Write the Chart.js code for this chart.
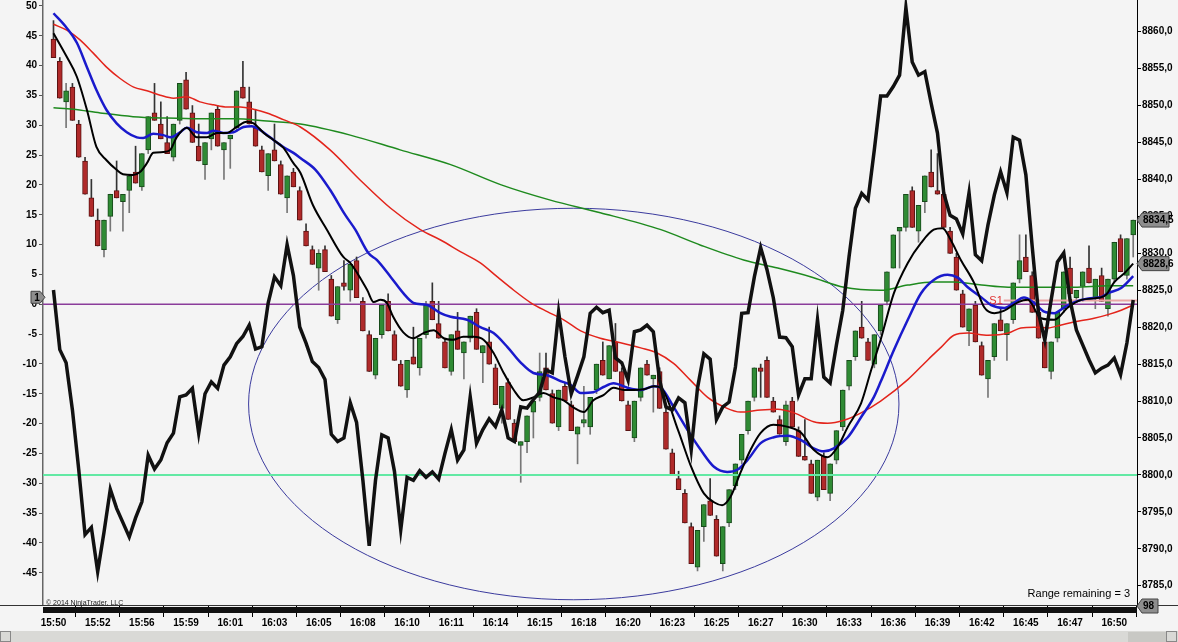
<!DOCTYPE html>
<html>
<head>
<meta charset="utf-8">
<script src="https://cdn.jsdelivr.net/npm/chart.js@4.4.1/dist/chart.umd.min.js"></script>
<style>
  html, body { margin: 0; padding: 0; background: #f4f4f4; }
  #wrap { width: 1178px; height: 642px; }
</style>
</head>
<body>
<div id="wrap"><canvas id="chart" width="1178" height="642"></canvas></div>
<script>
// time axis: one label every 7 range bars
const timeLabels = ['15:50','15:52','15:56','15:59','16:01','16:03','16:05','16:08','16:10','16:11','16:14','16:15','16:18',
  '16:20','16:23','16:25','16:27','16:30','16:33','16:36','16:39','16:42','16:45','16:47','16:50'];
const barsPerLabel = 7;

// range bars (price, right axis)
const opens = [8859.0,8856.0,8850.5,8852.5,8847.5,8842.5,8837.5,8834.5,8830.5,8835.0,8838.5,8837.0,8838.5,8841.0,8839.0,8844.0,8849.0,8847.5,8845.0,8843.0,
  8848.0,8853.5,8849.0,8844.5,8842.0,8845.5,8849.5,8844.0,8845.5,8847.0,8852.5,8850.5,8847.0,8844.0,8840.5,8844.0,8842.0,8837.5,8841.0,8838.5,
  8833.0,8830.5,8828.0,8830.5,8826.5,8821.0,8826.0,8825.0,8829.0,8823.5,8819.0,8813.5,8819.0,8823.5,8819.0,8815.0,8811.5,8816.0,8814.5,8819.0,
  8823.5,8820.5,8818.0,8814.0,8819.5,8816.5,8818.5,8822.0,8816.5,8818.0,8814.5,8809.0,8812.5,8807.0,8804.0,8804.5,8808.5,8810.5,8814.5,8811.0,
  8806.5,8812.0,8809.5,8805.5,8807.0,8806.5,8811.5,8815.5,8813.0,8818.0,8814.0,8809.5,8805.0,8810.5,8815.0,8813.0,8814.0,8808.5,8803.0,8799.5,
  8797.5,8793.0,8787.5,8793.0,8796.5,8794.0,8788.0,8793.5,8798.5,8802.0,8806.0,8810.5,8814.5,8815.5,8810.0,8807.5,8804.5,8810.0,8806.0,8802.5,
  8801.5,8797.0,8802.5,8797.5,8802.0,8806.5,8812.0,8816.0,8820.0,8818.0,8815.0,8819.5,8823.5,8828.0,8833.0,8833.5,8838.5,8833.0,8837.0,8841.0,
  8838.5,8838.0,8833.0,8829.5,8824.5,8819.5,8823.0,8817.5,8813.0,8816.0,8821.0,8819.0,8821.0,8826.5,8829.5,8827.0,8822.0,8818.0,8814.0,8818.5,
  8822.5,8828.0,8824.0,8825.5,8828.0,8824.0,8827.0,8822.5,8826.5,8832.0,8827.0,8832.5];
const highs = [8861.5,8856.5,8853.0,8853.0,8848.0,8843.0,8840.0,8836.0,8834.5,8838.0,8842.5,8838.0,8840.5,8844.5,8843.5,8848.5,8853.0,8850.5,8848.5,8847.5,
  8853.0,8854.5,8850.0,8847.5,8845.0,8849.0,8850.0,8845.0,8846.0,8852.0,8856.0,8852.5,8849.5,8844.5,8843.5,8847.5,8842.5,8840.5,8841.5,8839.0,
  8834.0,8831.0,8830.5,8831.0,8827.0,8825.5,8829.0,8828.5,8829.5,8824.0,8819.5,8818.5,8823.0,8824.5,8819.5,8815.5,8815.5,8820.0,8818.5,8823.5,
  8826.0,8823.5,8818.5,8819.0,8822.0,8818.0,8821.5,8822.5,8817.5,8820.0,8815.0,8812.0,8813.0,8807.5,8804.5,8808.0,8810.0,8816.5,8816.5,8811.5,
  8811.5,8812.5,8810.0,8806.5,8812.0,8810.5,8815.0,8818.0,8817.5,8820.5,8814.5,8810.0,8810.0,8814.5,8815.5,8813.5,8814.5,8809.0,8803.5,8800.5,
  8798.0,8793.5,8792.5,8796.0,8799.5,8794.5,8793.0,8798.0,8801.5,8805.5,8810.0,8814.5,8815.0,8816.0,8810.5,8808.0,8810.0,8810.5,8806.5,8807.5,
  8802.0,8802.0,8803.0,8801.5,8806.0,8811.5,8815.5,8819.5,8823.5,8818.5,8819.0,8823.0,8827.5,8832.5,8833.5,8838.0,8839.0,8836.5,8840.5,8844.0,
  8843.5,8838.5,8833.5,8830.0,8825.0,8822.5,8823.5,8818.0,8815.5,8820.5,8822.5,8820.5,8826.0,8832.5,8832.5,8827.5,8822.5,8818.5,8818.0,8822.0,
  8827.5,8829.5,8825.0,8827.5,8831.0,8826.5,8828.0,8826.5,8831.5,8832.5,8832.0,8834.5];
const lows = [8856.5,8851.0,8847.0,8848.0,8843.0,8838.0,8835.0,8831.0,8829.5,8833.0,8837.5,8833.0,8835.5,8839.5,8838.5,8843.5,8848.0,8845.5,8843.5,8842.5,
  8847.5,8849.5,8845.0,8842.5,8840.0,8844.0,8844.5,8840.0,8841.5,8846.5,8851.0,8847.5,8844.5,8841.0,8838.5,8842.5,8838.0,8835.5,8839.0,8834.5,
  8831.0,8828.5,8825.0,8827.5,8821.5,8820.5,8825.0,8823.5,8824.0,8819.5,8814.0,8813.0,8818.5,8819.5,8815.5,8812.0,8810.5,8815.0,8813.5,8818.5,
  8821.0,8818.5,8814.5,8813.5,8817.0,8813.0,8818.0,8817.0,8812.5,8815.0,8809.5,8807.0,8807.5,8804.5,8799.0,8803.0,8805.0,8810.0,8811.5,8807.0,
  8806.0,8810.0,8806.0,8801.5,8806.5,8805.5,8811.0,8813.5,8813.0,8814.0,8810.0,8806.0,8804.5,8810.0,8813.5,8808.5,8809.0,8803.5,8800.0,8798.0,
  8793.5,8788.0,8787.0,8791.0,8794.5,8789.0,8787.0,8793.0,8798.0,8801.5,8805.5,8810.0,8810.5,8810.5,8808.5,8805.5,8804.0,8806.5,8802.5,8802.0,
  8797.5,8796.5,8798.0,8796.5,8801.5,8806.0,8811.5,8815.5,8818.5,8815.5,8814.5,8819.0,8823.0,8828.0,8828.0,8833.0,8833.5,8831.5,8835.5,8839.0,
  8838.0,8833.5,8830.0,8825.0,8820.0,8817.5,8818.0,8813.5,8810.5,8815.5,8819.5,8815.5,8820.5,8826.0,8827.5,8822.0,8818.5,8814.5,8813.0,8818.0,
  8822.0,8824.5,8823.5,8823.5,8826.0,8822.5,8823.5,8821.5,8826.0,8827.5,8826.5,8829.5];
const closes = [8856.5,8851.0,8852.0,8848.0,8843.0,8838.0,8835.0,8831.0,8834.5,8838.0,8837.5,8838.0,8840.5,8839.5,8843.5,8848.5,8848.0,8845.5,8843.5,8847.5,
  8853.0,8849.5,8845.0,8842.5,8845.0,8849.0,8844.5,8845.0,8846.0,8852.0,8851.0,8847.5,8844.5,8841.0,8843.5,8842.5,8838.0,8840.5,8839.0,8834.5,
  8831.0,8828.5,8830.0,8827.5,8821.5,8825.5,8825.5,8828.5,8824.0,8819.5,8814.0,8818.5,8823.0,8819.5,8815.5,8812.0,8815.5,8815.0,8818.5,8823.0,
  8821.0,8818.5,8814.5,8819.0,8817.0,8818.0,8821.5,8817.0,8817.5,8815.0,8809.5,8812.0,8807.5,8804.5,8804.5,8808.0,8810.0,8814.0,8811.5,8807.0,
  8811.5,8810.0,8806.0,8806.5,8807.5,8810.5,8815.0,8813.5,8817.5,8814.0,8810.0,8806.0,8810.0,8814.5,8813.5,8813.5,8809.0,8803.5,8800.0,8798.0,
  8793.5,8788.0,8792.5,8796.0,8794.5,8789.0,8793.0,8798.0,8801.5,8805.5,8810.0,8814.5,8814.0,8810.5,8808.5,8805.5,8809.5,8806.5,8802.5,8802.0,
  8797.5,8802.0,8798.0,8801.5,8806.0,8811.5,8815.5,8819.5,8818.5,8815.5,8819.0,8823.0,8827.5,8832.5,8833.5,8838.0,8833.5,8836.5,8840.5,8839.0,
  8838.0,8833.5,8830.0,8825.0,8820.0,8822.5,8818.0,8813.5,8815.5,8820.5,8819.5,8820.5,8826.0,8829.0,8827.5,8822.0,8818.5,8814.5,8818.0,8822.0,
  8827.5,8824.5,8825.0,8827.5,8826.0,8826.5,8823.5,8826.5,8831.5,8827.5,8832.0,8834.5];

// oscillator (left axis), one value per bar
const oscillator = [2.4,-7.6,-9.8,-17.7,-27.7,-38.6,-37.4,-44.8,-38.2,-31.0,-34.2,-36.6,-39.0,-35.8,-33.1,-25.3,-27.6,-26.1,-23.2,-21.6,
  -15.5,-15.2,-14.1,-21.6,-15.0,-13.0,-14.1,-10.2,-8.8,-6.6,-5.4,-3.5,-7.5,-7.1,0.2,4.6,3.1,10.0,4.8,-3.8,
  -6.5,-9.6,-10.6,-12.6,-21.8,-23.0,-22.4,-16.5,-19.8,-29.5,-40.5,-29.5,-21.9,-22.4,-28.0,-37.8,-29.0,-29.5,-27.9,-29.0,
  -28.1,-29.3,-25.0,-21.0,-26.1,-24.4,-15.5,-23.3,-21.0,-19.2,-20.5,-17.7,-22.4,-23.0,-17.2,-17.4,-16.0,-14.7,-11.0,-11.5,
  -1.3,-8.8,-15.0,-12.0,-8.8,-1.5,-0.5,-1.4,-1.0,-9.0,-9.8,-12.7,-4.6,-4.3,-3.5,-4.6,-12.7,-17.2,-17.7,-15.7,
  -16.5,-24.4,-14.0,-8.3,-9.2,-19.3,-17.2,-16.4,-10.5,-1.5,-1.4,4.6,9.5,5.8,1.1,-5.5,-5.6,-7.1,-15.2,-12.5,
  -12.5,-2.6,-12.2,-13.2,-6.8,-1.0,8.0,16.1,18.6,17.5,25.9,34.9,34.9,36.5,38.4,49.7,40.6,38.4,39.0,33.7,
  28.7,18.6,14.9,14.3,11.8,18.7,8.3,7.3,13.3,18.3,22.2,18.7,28.0,27.5,21.7,9.7,-1.5,-6.0,0.7,7.1,
  8.6,0.7,-4.3,-6.8,-9.3,-11.5,-10.7,-10.2,-9.0,-11.8,-6.5,0.7];

// moving averages: [bar, price]
const maFast = [[0,8859.8],[2.1,8856.6],[3.7,8853.9],[5.3,8849.4],[6.8,8844.4],[8.4,8842.6],[10,8841.3],[11,8840.7],[12.6,8840.6],[13.7,8841.0],
  [14.8,8842.2],[15.8,8843.6],[17.4,8843.7],[18.5,8844.0],[19.5,8845.7],[21.1,8847.0],[22.7,8845.7],[24.3,8845.7],[25.9,8846.3],[27.5,8846.3],
  [29,8847.1],[30.6,8847.8],[31.7,8847.6],[33.3,8846.3],[34.9,8845.3],[36.4,8844.3],[38,8842.2],[39.1,8840.9],[41.1,8836.5],[43.3,8833.2],
  [45.9,8829.5],[47,8828.7],[49.7,8825.0],[50.7,8823.4],[51.8,8823.7],[52.8,8823.3],[53.8,8821.4],[55.4,8819.3],[57,8818.5],[58.6,8819.2],
  [60.2,8819.6],[61.8,8818.5],[63.3,8818.3],[64.9,8818.7],[66.5,8818.7],[68.1,8818.3],[69.7,8816.5],[71.3,8813.8],[72.9,8811.5],[74.4,8810.1],
  [76,8810.5],[77.6,8811.1],[79.2,8810.5],[80.8,8810.1],[82.4,8809.1],[84,8808.5],[85.5,8810.1],[87.1,8810.8],[88.7,8811.8],[90.3,8811.5],
  [91.9,8811.5],[93.5,8811.6],[95.1,8812.0],[96.2,8811.8],[98.9,8806.1],[100.9,8801.3],[103,8797.5],[104.6,8796.3],[105.9,8795.9],[107.2,8797.0],
  [108.8,8800.3],[110.4,8803.4],[112,8805.7],[114,8806.8],[116.3,8806.5],[118.4,8805.7],[120.4,8803.4],[122.6,8802.4],[124.2,8803.8],[125.8,8806.5],
  [127.9,8809.7],[129.5,8814.2],[131,8818.3],[133.1,8824.6],[135.3,8828.7],[137.4,8831.4],[139.4,8833.2],[140.8,8833.4],[142.1,8831.8],[143.7,8829.1],
  [145.8,8826.0],[147.4,8822.7],[149,8821.9],[150.5,8822.2],[152.8,8823.4],[154.3,8823.7],[156.4,8821.2],[158.5,8821.0],[160.7,8822.7],[162.8,8823.7],
  [164.8,8823.9],[166.7,8824.4],[168,8826.1],[169.6,8827.3],[171,8828.6]];
const maBlue = [[0,8862.5],[2.1,8860.5],[3.7,8858.5],[5.3,8855.2],[6.8,8852.1],[8.4,8849.4],[10,8847.6],[11.6,8846.4],[13.2,8845.7],[14.2,8845.6],
  [15.8,8846.2],[17.4,8846.0],[18.5,8845.7],[20.1,8846.4],[21.1,8847.0],[22.7,8846.4],[24.3,8846.3],[25.3,8846.6],[26.9,8846.3],[28.5,8846.4],
  [30.1,8847.1],[31.4,8847.2],[32.7,8846.7],[34.3,8845.7],[36.4,8844.4],[38,8843.6],[39.1,8842.9],[41.5,8841.3],[43.8,8838.6],[46.2,8835.2],
  [47.8,8833.2],[49.9,8830.0],[51.2,8829.1],[53.4,8826.8],[55.4,8824.6],[57,8823.3],[59.2,8823.0],[61.3,8821.9],[62.9,8821.4],[65.5,8821.0],
  [67.6,8820.0],[69.7,8819.2],[71.9,8817.3],[74,8815.2],[76,8813.8],[78.2,8813.5],[80.3,8812.7],[81.9,8812.2],[83.5,8811.1],[85.5,8811.2],
  [87.1,8811.9],[88.7,8812.4],[90.9,8811.8],[93,8811.5],[95.1,8812.0],[96.2,8811.8],[98.2,8809.2],[100.4,8806.1],[102.5,8803.4],[104.6,8801.1],
  [106.7,8800.4],[108.3,8800.7],[109.9,8802.0],[112,8804.3],[114.1,8805.1],[116.3,8805.3],[118.4,8804.7],[120.4,8803.6],[122,8803.2],[123.6,8803.6],
  [125.8,8805.1],[127.9,8807.8],[129.9,8810.5],[131,8812.6],[133.1,8816.9],[135.3,8821.0],[137.4,8824.6],[139.4,8826.4],[141.6,8827.1],[143.2,8826.7],
  [144.8,8825.4],[147,8824.0],[148.5,8823.0],[150.6,8822.6],[152.1,8823.3],[153.7,8824.0],[155.3,8823.3],[156.9,8822.1],[158.5,8821.9],[160.1,8822.7],
  [161.7,8823.4],[163.9,8823.9],[166,8824.1],[167,8824.6],[169.1,8825.3],[171,8826.9]];
const maRed = [[0,8861.0],[2.1,8860.2],[4.2,8858.9],[6.3,8857.1],[8.4,8855.2],[10.5,8853.7],[12.7,8852.5],[14.8,8852.0],[16.9,8851.4],[19,8851.0],
  [21.1,8851.2],[23.2,8850.5],[25.3,8850.1],[27.5,8849.8],[29.6,8849.8],[31.7,8849.5],[33.8,8849.0],[36.4,8848.1],[39.1,8847.1],[43.8,8844.0],
  [48.6,8839.9],[53.4,8836.1],[58.1,8833.2],[61.3,8831.8],[64.5,8830.2],[67.6,8828.7],[70.3,8826.8],[72.9,8825.0],[75.6,8823.3],[78.2,8822.1],
  [80.8,8821.0],[83.5,8819.5],[86.6,8818.5],[89.8,8817.9],[93,8817.2],[95.6,8816.5],[98.2,8815.1],[100.9,8812.8],[103.6,8810.5],[106.2,8809.2],
  [108.8,8808.5],[112,8808.8],[114.7,8808.9],[117.3,8808.4],[120.4,8807.2],[122.6,8807.0],[125.2,8807.4],[127.9,8808.4],[131,8810.0],[135.3,8812.9],
  [138.5,8815.6],[140.6,8817.3],[142.6,8818.9],[144.8,8819.2],[148,8818.9],[151.2,8819.2],[153.2,8819.9],[155.3,8820.0],[157.5,8819.9],[159.6,8820.3],
  [161.6,8820.7],[164.8,8821.2],[167,8821.7],[169.1,8822.3],[171,8823.0]];
const maGreen = [[0,8849.7],[3.1,8849.5],[7.4,8849.0],[12.6,8848.5],[17.9,8848.3],[23.2,8848.2],[28.5,8848.2],[33.8,8847.9],[39.1,8847.5],[47,8846.0],
  [54.9,8844.0],[62.9,8842.0],[70.8,8839.3],[78.7,8837.2],[86.6,8835.5],[96.2,8833.2],[102.5,8831.1],[109.3,8829.1],[114.7,8828.0],[120,8826.8],
  [125.2,8825.4],[131,8825.0],[135.3,8825.7],[139.4,8826.1],[142.6,8826.1],[147,8825.7],[151.2,8825.4],[156.4,8825.4],[161.7,8825.4],[167,8825.6],[171,8825.6]];

// horizontal levels
const zeroLevel = 0;          // left axis
const supportLevel = 8800;    // right axis
const s1Level = 8823.6;
const s1StartBar = 150.5;

const idx = opens.map((_, i) => i);
const isUp = i => closes[i] >= opens[i];
const pts = arr => arr.map(p => ({ x: p[0], y: p[1] }));
const fmt = v => v.toFixed(1).replace('.', ',');

Chart.defaults.font.family = 'Liberation Sans';

const decor = {
  id: 'decor',
  beforeDraw(chart) {
    const c = chart.ctx;
    c.save();
    c.fillStyle = '#f4f4f4';
    c.fillRect(0, 0, chart.width, chart.height);
    c.restore();
  },
  beforeDatasetsDraw(chart) {
    // drawn ellipse
    const c = chart.ctx, x = chart.scales.x, y = chart.scales.yR;
    const cx = x.getPixelForValue(82.4), cy = y.getPixelForValue(8809.6);
    const rx = x.getPixelForValue(82.4 + 51.5) - cx;
    const ry = cy - y.getPixelForValue(8809.6 + 26.5);
    c.save();
    c.strokeStyle = '#3b3b9e';
    c.lineWidth = 1;
    c.beginPath();
    c.ellipse(cx, cy, rx, ry, 0, 0, Math.PI * 2);
    c.stroke();
    c.restore();
  },
  afterDraw(chart) {
    const c = chart.ctx, a = chart.chartArea, yR = chart.scales.yR;
    c.save();
    // bottom frame + overview band + scroll strip
    c.fillStyle = '#333';
    c.fillRect(0, a.bottom, chart.width, 1);
    c.fillStyle = '#111';
    c.fillRect(a.left, a.bottom + 2, a.right - a.left, 6);
    c.fillStyle = '#d9d9d6';
    c.fillRect(0, 631, chart.width, 11);
    c.fillStyle = '#c8c8c4';
    c.fillRect(1128, 632, 38, 10);
    c.strokeStyle = '#888';
    c.strokeRect(0.5, 631.5, 10, 10);
    c.strokeRect(1166.5, 631.5, 10, 10);

    // S1 label
    c.fillStyle = '#e03030';
    c.font = '11px "Liberation Sans"';
    c.textAlign = 'right';
    c.textBaseline = 'middle';
    c.fillText('S1', chart.scales.x.getPixelForValue(s1StartBar) - 1, yR.getPixelForValue(s1Level));

    // value tags on the right axis
    const tag = (yy, text, w) => {
      c.beginPath();
      c.moveTo(a.right, yy);
      c.lineTo(a.right + 5, yy - 7);
      c.lineTo(a.right + w, yy - 7);
      c.lineTo(a.right + w, yy + 7);
      c.lineTo(a.right + 5, yy + 7);
      c.closePath();
      c.fillStyle = '#8e8e8e';
      c.fill();
      c.strokeStyle = '#444';
      c.lineWidth = 1;
      c.stroke();
      c.fillStyle = '#000';
      c.font = 'bold 10px "Liberation Sans"';
      c.textAlign = 'left';
      c.textBaseline = 'middle';
      c.fillText(text, a.right + 6, yy + 0.5);
    };
    tag(yR.getPixelForValue(closes[closes.length - 1]), fmt(closes[closes.length - 1]), 32);
    tag(yR.getPixelForValue(maFast[maFast.length - 1][1]), fmt(maFast[maFast.length - 1][1]), 32);
    tag(a.bottom + 1, '98', 21);

    // panel marker on the left axis
    const yz = chart.scales.yL.getPixelForValue(zeroLevel) - 7;
    c.beginPath();
    c.moveTo(31, yz - 6); c.lineTo(40, yz - 6); c.lineTo(45, yz); c.lineTo(40, yz + 6); c.lineTo(31, yz + 6);
    c.closePath();
    c.fillStyle = '#8e8e8e'; c.fill();
    c.strokeStyle = '#444'; c.stroke();
    c.fillStyle = '#000';
    c.font = 'bold 10px "Liberation Sans"';
    c.textAlign = 'center';
    c.fillText('1', 37, yz + 0.5);

    // texts
    c.font = '11px "Liberation Sans"';
    c.textAlign = 'right';
    c.textBaseline = 'alphabetic';
    c.fillText('Range remaining = 3', 1130, 597);
    c.font = '7px "Liberation Sans"';
    c.textAlign = 'left';
    c.fillStyle = '#222';
    c.fillText('\u00a9 2014 NinjaTrader, LLC', 46, a.bottom - 0.5);
    c.restore();
  }
};

const tickFont = { size: 10, weight: 'bold', family: 'Liberation Sans' };

new Chart(document.getElementById('chart'), {
  type: 'line',
  data: {
    datasets: [
      { label: 'Oscillator', yAxisID: 'yL', data: oscillator.map((v, i) => ({ x: i, y: v })),
        borderColor: '#111', borderWidth: 3.5, pointRadius: 0, tension: 0, order: 0 },
      { label: 'MA fast', yAxisID: 'yR', data: pts(maFast), borderColor: '#000', borderWidth: 2,
        pointRadius: 0, cubicInterpolationMode: 'monotone', order: 1 },
      { label: 'MA blue', yAxisID: 'yR', data: pts(maBlue), borderColor: '#1a1acc', borderWidth: 2.5,
        pointRadius: 0, cubicInterpolationMode: 'monotone', order: 2 },
      { label: 'MA red', yAxisID: 'yR', data: pts(maRed), borderColor: '#e3241b', borderWidth: 1.5,
        pointRadius: 0, cubicInterpolationMode: 'monotone', order: 3 },
      { label: 'MA green', yAxisID: 'yR', data: pts(maGreen), borderColor: '#1e8a1e', borderWidth: 1.5,
        pointRadius: 0, cubicInterpolationMode: 'monotone', order: 4 },
      { label: 'Zero', yAxisID: 'yL', data: [{ x: -5, y: zeroLevel }, { x: 180, y: zeroLevel }],
        borderColor: '#8a3c9a', borderWidth: 1.5, pointRadius: 0, order: 5 },
      { label: 'Support', yAxisID: 'yR', data: [{ x: -5, y: supportLevel }, { x: 180, y: supportLevel }],
        borderColor: '#62e9a4', borderWidth: 2, pointRadius: 0, order: 5 },
      { label: 'S1', yAxisID: 'yR', data: [{ x: s1StartBar, y: s1Level }, { x: 180, y: s1Level }],
        borderColor: '#eaa6a6', borderWidth: 2, pointRadius: 0, order: 5 },
      { type: 'bar', label: 'Body', yAxisID: 'yR', data: idx.map(i => ({ x: i, y: [opens[i], closes[i]] })),
        backgroundColor: idx.map(i => isUp(i) ? '#2f8b34' : '#b02a2a'),
        borderColor: idx.map(i => isUp(i) ? '#174a1a' : '#5a1212'),
        borderWidth: 1, borderSkipped: false, barThickness: 5, grouped: false, order: 6 },
      { type: 'bar', label: 'Wick', yAxisID: 'yR', data: idx.map(i => ({ x: i, y: [lows[i], highs[i]] })),
        backgroundColor: idx.map(i => isUp(i) ? '#777' : '#333'),
        barThickness: 1, grouped: false, order: 7 }
    ]
  },
  options: {
    responsive: false,
    animation: false,
    devicePixelRatio: 1,
    layout: { padding: 0 },
    plugins: { legend: { display: false }, tooltip: { enabled: false } },
    scales: {
      x: {
        type: 'linear', position: 'bottom', min: -1.66, max: 171.6, offset: false,
        afterBuildTicks: s => { s.ticks = timeLabels.map((t, i) => ({ value: i * barsPerLabel })); },
        afterFit: s => { s.height = 37; s.paddingLeft = 0; s.paddingRight = 0; },
        ticks: { callback: v => timeLabels[Math.round(v / barsPerLabel)], autoSkip: false, maxRotation: 0,
          color: '#000', font: tickFont, padding: 0 },
        grid: { drawOnChartArea: false, tickLength: 12, tickColor: '#000' },
        border: { display: false }
      },
      yL: {
        type: 'linear', position: 'left', min: -50.4, max: 51.0,
        afterBuildTicks: s => { const t = []; for (let v = -45; v <= 50; v += 5) t.push({ value: v }); s.ticks = t; },
        afterFit: s => { s.width = 43; s.paddingTop = 0; s.paddingBottom = 0; },
        ticks: { color: '#000', font: tickFont, padding: 2 },
        grid: { drawOnChartArea: false, tickLength: 4, tickColor: '#555' },
        border: { color: '#666', width: 1.5 }
      },
      yR: {
        type: 'linear', position: 'right', min: 8782.39, max: 8864.29,
        afterBuildTicks: s => { const t = []; for (let v = 8785; v <= 8860; v += 5) t.push({ value: v }); s.ticks = t; },
        afterFit: s => { s.width = 41; s.paddingTop = 0; s.paddingBottom = 0; },
        ticks: { color: '#000', font: tickFont, padding: 1, callback: v => fmt(v) },
        grid: { drawOnChartArea: false, tickLength: 4, tickColor: '#000' },
        border: { color: '#000', width: 1 }
      }
    }
  },
  plugins: [decor]
});
</script>
</body>
</html>
